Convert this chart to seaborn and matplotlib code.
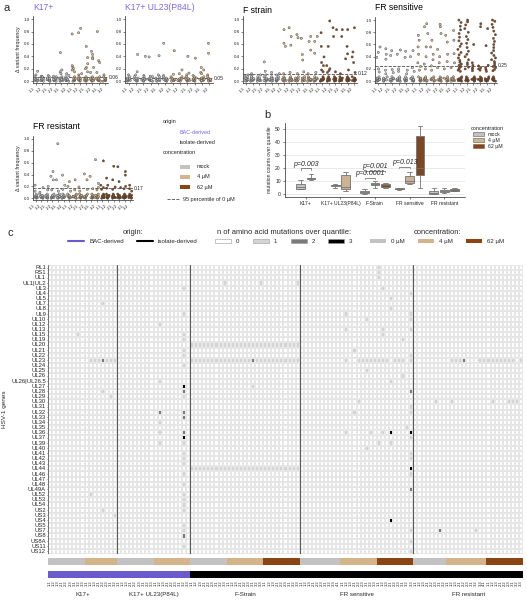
import numpy as np
import pandas as pd
import matplotlib
matplotlib.use('Agg')
import matplotlib.pyplot as plt
import seaborn as sns
from matplotlib.colors import ListedColormap
from matplotlib.patches import Patch, Rectangle
from matplotlib.lines import Line2D

sns.set_theme(style='ticks')
plt.rcParams['font.family'] = ['Liberation Sans', 'DejaVu Sans']

W, H = 527, 600

# ---------------- data ----------------
conc_names = ['mock', '4 µM', '62 µM']
conc_colors = {'mock': '#c2c2c2', '4 µM': '#d4b48a', '62 µM': '#8b4513'}
bac_color = '#6a5acd'
title_purple = '#7b68ee'

rep_labels = ['1.1', '1.2', '2.1', '2.2', '3.1', '3.2']
low_cluster = [0.0, 0.01, 0.01, 0.02, 0.03, 0.03, 0.04, 0.05, 0.07]

# panel a: upper points per sample (dense cluster near 0 added from low_cluster)
k17_points = [[0.16, 0.10], [0.08, 0.07], [0.09], [0.08], [0.46, 0.18, 0.15, 0.12], [0.12, 0.09],
              [0.76, 0.25, 0.22, 0.20, 0.18, 0.15], [0.85, 0.78, 0.12, 0.10],
              [0.56, 0.38, 0.28, 0.22, 0.20, 0.15], [0.48, 0.43, 0.38, 0.36, 0.22, 0.14],
              [0.80, 0.33, 0.30, 0.14], [0.10]]
ul23_points = [[0.10], [0.43, 0.15, 0.10], [0.40, 0.09], [0.39, 0.08], [0.41, 0.10], [0.61, 0.09],
               [0.49, 0.11], [0.18, 0.12], [0.40, 0.13, 0.10], [0.37, 0.09],
               [0.22, 0.18, 0.14, 0.12], [0.61, 0.45, 0.10]]
f_points = [[0.10, 0.08], [0.12, 0.09], [0.10], [0.31, 0.16, 0.10], [0.14], [0.12, 0.10],
            [0.83, 0.61, 0.56, 0.12], [0.86, 0.72, 0.58, 0.14], [0.75, 0.70, 0.12],
            [0.69, 0.43, 0.34, 0.15], [0.72, 0.64, 0.50, 0.12], [0.72, 0.64, 0.45, 0.14],
            [0.78, 0.56, 0.39, 0.30, 0.25, 0.18, 0.15], [0.97, 0.56, 0.25, 0.20, 0.17, 0.14],
            [0.86, 0.83, 0.72, 0.15], [0.83, 0.72, 0.12], [0.83, 0.56, 0.44, 0.36, 0.18],
            [0.86, 0.47, 0.39, 0.30, 0.14]]
frs_points = [[0.56, 0.47, 0.39, 0.20, 0.15], [0.53, 0.44, 0.36, 0.18, 0.12], [0.50, 0.42, 0.19, 0.14],
              [0.51, 0.44, 0.20, 0.16], [0.49, 0.39, 0.18, 0.12], [0.50, 0.40, 0.22, 0.16],
              [0.75, 0.67, 0.56, 0.44, 0.30, 0.24, 0.18], [0.94, 0.89, 0.78, 0.56, 0.40, 0.28, 0.20],
              [0.67, 0.56, 0.44, 0.35, 0.25, 0.18], [0.93, 0.89, 0.78, 0.52, 0.40, 0.30, 0.22],
              [0.75, 0.64, 0.44, 0.32, 0.20], [0.83, 0.67, 0.45, 0.30, 0.22],
              [1.00, 0.96, 0.90, 0.84, 0.78, 0.72, 0.66, 0.61, 0.57, 0.52, 0.47, 0.43, 0.38, 0.34,
               0.31, 0.28, 0.26, 0.24, 0.22, 0.20, 0.18, 0.16],
              [1.00, 0.97, 0.92, 0.86, 0.80, 0.73, 0.68, 0.62, 0.55, 0.49, 0.44, 0.40, 0.35, 0.30,
               0.27, 0.23, 0.20],
              [0.60, 0.30, 0.26, 0.22, 0.20, 0.17], [0.94, 0.89, 0.25, 0.22, 0.20, 0.18],
              [0.86, 0.58, 0.26, 0.22, 0.19, 0.16],
              [1.00, 0.98, 0.93, 0.88, 0.82, 0.76, 0.70, 0.65, 0.60, 0.55, 0.50, 0.46, 0.42, 0.38,
               0.35, 0.32, 0.29, 0.26, 0.24, 0.22, 0.19, 0.17]]
frr_points = [[0.22, 0.12], [0.18, 0.10], [0.20, 0.14], [0.45, 0.37, 0.31, 0.14], [0.92, 0.31, 0.12],
              [0.39, 0.22, 0.15], [0.28, 0.20, 0.12], [0.31, 0.14], [0.19, 0.12], [0.41, 0.31, 0.15],
              [0.37, 0.16], [0.65, 0.25, 0.18, 0.14], [0.63, 0.22, 0.18, 0.15], [0.34, 0.22, 0.17],
              [0.54, 0.31, 0.19, 0.15], [0.53, 0.28, 0.18], [0.45, 0.39, 0.20, 0.16], [0.22, 0.16, 0.12]]
thresholds = {'K17+': 0.06, 'K17+ UL23(P84L)': 0.05, 'F strain': 0.12,
              'FR sensitive': 0.25, 'FR resistant': 0.17}

# panel b: mutation counts over quantile (per strain / concentration)
strain_names = ['K17+', 'K17+ UL23(P84L)', 'F-Strain', 'FR sensitive', 'FR resistant']
box_counts = {
    'K17+': {'mock': [4, 4.5, 6, 8, 11], '4 µM': [11, 12, 12.5, 13, 16]},
    'K17+ UL23(P84L)': {'mock': [5, 6.5, 7, 7.5, 8], '4 µM': [3, 4, 6, 15, 17]},
    'F-Strain': {'mock': [0.5, 1, 2, 3, 4], '4 µM': [5, 7, 8, 9, 10], '62 µM': [5, 6, 7, 8, 9]},
    'FR sensitive': {'mock': [3.5, 4, 4.5, 5, 5], '4 µM': [8, 9, 10, 14, 17],
                     '62 µM': [5, 15, 20, 45, 53]},
    'FR resistant': {'mock': [0, 0.5, 1, 3, 5], '4 µM': [1, 2, 3, 3.5, 5], '62 µM': [2.5, 3, 3.5, 4, 5]},
}

# panel c
genes = ['RL1', 'RS1', 'UL1', 'UL1|UL2', 'UL3', 'UL4', 'UL5', 'UL7', 'UL8', 'UL9', 'UL10', 'UL12',
         'UL13', 'UL15', 'UL19', 'UL20', 'UL21', 'UL22', 'UL23', 'UL24', 'UL25', 'UL26',
         'UL26|UL26.5', 'UL27', 'UL28', 'UL29', 'UL30', 'UL31', 'UL32', 'UL33', 'UL34', 'UL35',
         'UL36', 'UL37', 'UL39', 'UL40', 'UL41', 'UL42', 'UL43', 'UL44', 'UL46', 'UL47', 'UL48',
         'UL49A', 'UL52', 'UL53', 'UL54', 'US2', 'US3', 'US4', 'US5', 'US7', 'US8', 'US8A',
         'US11', 'US12']
# columns per strain and concentration
strain_cols = [('K17+', {'mock': 9, '4 µM': 8}),
               ('K17+ UL23(P84L)', {'mock': 9, '4 µM': 9}),
               ('F-Strain', {'mock': 9, '4 µM': 9, '62 µM': 9}),
               ('FR sensitive', {'mock': 10, '4 µM': 9, '62 µM': 9}),
               ('FR resistant', {'mock': 8, '4 µM': 10, '62 µM': 9})]
strain_origin = {'K17+': 'BAC-derived', 'K17+ UL23(P84L)': 'BAC-derived', 'F-Strain': 'isolate-derived',
                 'FR sensitive': 'isolate-derived', 'FR resistant': 'isolate-derived'}
sample_labels = ['1.1', '1.2', '1.3', '2.1', '2.2', '2.3', '3.1', '3.2', '3.3', '4.1']
# (gene, first column, last column, n mutations)
mutation_cells = [
    ('UL7', 13, 13, 1), ('UL15', 7, 7, 1), ('UL23', 10, 16, 1), ('UL23', 13, 13, 2),
    ('UL28', 13, 13, 1), ('UL29', 15, 15, 1), ('UL52', 10, 10, 1), ('US2', 13, 13, 1), ('US3', 16, 16, 1),
    ('UL3', 33, 33, 1), ('UL9', 33, 33, 1), ('UL12', 27, 27, 1), ('UL15', 33, 33, 1), ('UL19', 33, 33, 1),
    ('UL21', 33, 33, 1), ('UL22', 33, 33, 1), ('UL24', 33, 33, 1), ('UL26|UL26.5', 27, 27, 1),
    ('UL27', 33, 33, 3), ('UL28', 33, 33, 2), ('UL29', 33, 33, 1), ('UL32', 27, 27, 2), ('UL32', 33, 33, 2),
    ('UL33', 33, 33, 2), ('UL34', 27, 27, 1), ('UL36', 27, 27, 1), ('UL36', 33, 33, 2), ('UL37', 33, 33, 3),
    ('UL39', 27, 27, 1), ('UL39', 33, 33, 1), ('UL41', 33, 33, 1), ('UL42', 33, 33, 1), ('UL43', 33, 33, 1),
    ('UL46', 33, 33, 1), ('UL48', 33, 33, 1), ('UL52', 33, 33, 1), ('UL53', 33, 33, 1), ('UL54', 33, 33, 1),
    ('US2', 33, 33, 1), ('US5', 33, 33, 1), ('US7', 33, 33, 1), ('US8', 33, 33, 2), ('US11', 33, 33, 1),
    ('UL1|UL2', 43, 43, 1), ('UL1|UL2', 52, 52, 1), ('UL1|UL2', 61, 61, 1), ('UL20', 35, 61, 1),
    ('UL23', 35, 61, 1), ('UL23', 50, 50, 2), ('UL27', 50, 50, 1), ('UL44', 35, 61, 1),
    ('RL1', 81, 81, 1), ('RS1', 81, 81, 1), ('UL1', 81, 81, 1), ('UL3', 82, 82, 1), ('UL4', 89, 89, 1),
    ('UL5', 84, 84, 1), ('UL8', 84, 84, 1), ('UL9', 89, 89, 1), ('UL10', 89, 89, 1), ('UL9', 73, 73, 1),
    ('UL10', 78, 78, 1), ('UL13', 73, 73, 1), ('UL13', 82, 82, 1), ('UL15', 82, 82, 1), ('UL13', 89, 89, 1),
    ('UL19', 87, 87, 1), ('UL21', 75, 75, 1), ('UL22', 89, 89, 1), ('UL23', 73, 73, 1), ('UL23', 76, 83, 1),
    ('UL23', 85, 87, 1), ('UL23', 89, 89, 1), ('UL25', 78, 78, 1), ('UL26', 87, 87, 1),
    ('UL26|UL26.5', 84, 84, 1), ('UL28', 89, 89, 2), ('UL30', 76, 76, 1), ('UL31', 89, 89, 1),
    ('UL32', 89, 89, 1), ('UL32', 75, 75, 1), ('UL35', 88, 88, 1), ('UL36', 73, 73, 1), ('UL36', 79, 79, 1),
    ('UL36', 82, 82, 1), ('UL36', 84, 84, 3), ('UL36', 89, 89, 3), ('UL37', 89, 89, 1), ('UL39', 81, 81, 1),
    ('UL39', 84, 84, 1), ('UL40', 78, 78, 1), ('UL41', 89, 89, 1), ('UL42', 89, 89, 1), ('UL44', 89, 89, 3),
    ('UL46', 89, 89, 1), ('UL49A', 89, 89, 2), ('US4', 84, 84, 3), ('US7', 89, 89, 1), ('US8A', 89, 89, 1),
    ('US12', 89, 89, 1),
    ('UL23', 99, 101, 1), ('UL23', 102, 102, 2), ('UL23', 106, 114, 1), ('UL23', 116, 116, 1),
    ('UL30', 95, 95, 1), ('UL30', 99, 99, 1), ('UL30', 109, 109, 1), ('UL30', 113, 115, 1),
    ('US7', 96, 96, 2), ('US7', 105, 105, 1),
]


def px_rect(x0, y0, x1, y1):
    return [x0 / W, 1 - y1 / H, (x1 - x0) / W, (y1 - y0) / H]


fig = plt.figure(figsize=(W / 100, H / 100), dpi=100)


# ---------------- panel a ----------------
def strip_panel(box, points, title, tcolor, ylabel=False, title_pad=4):
    ax = fig.add_axes(px_rect(*box))
    n = len(points)
    per = n // (2 if n == 12 else 3)
    concs = conc_names[:n // per]
    rows = []
    for i, vals in enumerate(points):
        for v in vals + low_cluster:
            rows.append({'sample': i, 'freq': v, 'conc': concs[i // per]})
    df = pd.DataFrame(rows)
    sns.stripplot(data=df, x='sample', y='freq', hue='conc', hue_order=conc_names,
                  palette=conc_colors, order=list(range(n)), jitter=0.3, size=1.6,
                  linewidth=0.3, edgecolor='0.25', legend=False, ax=ax)
    thr = thresholds[title]
    ax.axhline(thr, ls='--', lw=0.6, color='0.3')
    ax.text(1.01, thr, f'{thr}', transform=ax.get_yaxis_transform(), fontsize=3.6, va='center')
    ax.set_ylim(-0.03, 1.05)
    ax.set_yticks([0, 0.2, 0.4, 0.6, 0.8, 1.0])
    ax.set_xticks(range(n))
    ax.set_xticklabels(rep_labels * (n // 6), rotation=45, ha='right', fontsize=3.2)
    ax.tick_params(axis='y', labelsize=3.2)
    ax.tick_params(length=1.5, width=0.4, pad=1)
    ax.set_xlabel('')
    ax.set_ylabel('Δ variant frequency' if ylabel else '', fontsize=3.8, labelpad=2)
    ax.set_title(title, loc='left', fontsize=6.2, color=tcolor, pad=title_pad)
    for s in ax.spines.values():
        s.set_linewidth(0.5)
    sns.despine(ax=ax)
    return ax


strip_panel((33, 16, 108, 83), k17_points, 'K17+', title_purple, ylabel=True)
strip_panel((125, 16, 213, 83), ul23_points, 'K17+ UL23(P84L)', title_purple)
strip_panel((243, 16, 357, 83), f_points, 'F strain', 'black', title_pad=2)
strip_panel((375, 17, 497, 83), frs_points, 'FR sensitive', 'black', title_pad=5)
strip_panel((33, 136, 133, 200), frr_points, 'FR resistant', 'black', ylabel=True, title_pad=5)
fig.text(4 / W, 1 - 8 / H, 'a', fontsize=8, va='center')

# legend of panel a
def ftext(x, y, s, **kw):
    fig.text(x / W, 1 - y / H, s, va='center', **kw)


ftext(163, 122, 'origin', fontsize=4)
ftext(180, 132, 'BAC-derived', fontsize=4, color=title_purple)
ftext(180, 142, 'isolate-derived', fontsize=4)
ftext(163, 153, 'concentration', fontsize=4)
for name, y in zip(conc_names, [167, 177, 187]):
    fig.add_artist(Rectangle((180 / W, 1 - (y + 2) / H), 10 / W, 4 / H, transform=fig.transFigure,
                             facecolor=conc_colors[name], edgecolor='none'))
    ftext(197, y, name, fontsize=4)
fig.add_artist(Line2D([167 / W, 180 / W], [1 - 199 / H, 1 - 199 / H], transform=fig.transFigure,
                      ls='--', lw=0.6, color='0.3'))
ftext(183, 199, '95 percentile of 0 µM', fontsize=4)

# ---------------- panel b ----------------
axb = fig.add_axes(px_rect(285, 123, 465, 197))
offsets = {2: [-0.15, 0.15], 3: [-0.3, 0.0, 0.3]}
rows = []
for i, strain in enumerate(strain_names):
    groups = box_counts[strain]
    for j, (conc, vals) in enumerate(groups.items()):
        for v in vals:
            rows.append({'pos': i + offsets[len(groups)][j], 'count': v, 'conc': conc})
bdf = pd.DataFrame(rows)
axb.yaxis.grid(True, color='#e6e6e6', lw=0.6)
axb.set_axisbelow(True)
sns.boxplot(data=bdf, x='pos', y='count', hue='conc', hue_order=conc_names, palette=conc_colors,
            native_scale=True, dodge=False, width=0.85, whis=(0, 100), linewidth=0.6,
            linecolor='0.45', legend=False, ax=axb)
axb.set_xlim(-0.6, 4.6)
axb.set_ylim(-2, 55)
axb.set_yticks([0, 10, 20, 30, 40, 50])
axb.set_xticks(range(5))
axb.set_xticklabels(strain_names, fontsize=3.6)
axb.tick_params(axis='y', labelsize=3.6)
axb.tick_params(length=1.5, width=0.4, pad=1.5)
axb.set_xlabel('')
axb.set_ylabel('mutation counts over quantile', fontsize=3.6, labelpad=2)
for s in axb.spines.values():
    s.set_linewidth(0.5)
sns.despine(ax=axb)


def bracket(x1, x2, y, label):
    axb.plot([x1, x1, x2, x2], [y - 1, y, y, y - 1], color='0.35', lw=0.5)
    axb.text((x1 + x2) / 2, y + 0.6, label, ha='center', va='bottom', fontsize=5, style='italic')


bracket(-0.15, 0.15, 20, 'p=0.003')
bracket(1.7, 2.0, 13, 'p=0.0001')
bracket(1.7, 2.3, 18, 'p=0.001')
bracket(2.7, 3.0, 21, 'p=0.013')
axb.legend(handles=[Patch(facecolor=conc_colors[c], edgecolor='0.45', lw=0.5) for c in conc_names],
           labels=conc_names, title='concentration', loc='upper left', bbox_to_anchor=(1.02, 1.0),
           fontsize=3.8, title_fontsize=4, frameon=False, handlelength=2, handleheight=0.8,
           labelspacing=0.2, borderpad=0)
fig.text(264 / W, 1 - 115 / H, 'b', fontsize=8, va='center')

# ---------------- panel c ----------------
col_labels, col_conc, col_origin, bounds, centers = [], [], [], [], []
start = 0
for strain, conc_n in strain_cols:
    for conc, n in conc_n.items():
        col_labels += sample_labels[:n]
        col_conc += [conc_names.index(conc)] * n
        col_origin += [0 if strain_origin[strain] == 'BAC-derived' else 1] * n
    total = sum(conc_n.values())
    centers.append(start + total / 2)
    start += total
    bounds.append(start)
n_cols = start

mat = np.zeros((len(genes), n_cols))
for gene, c0, c1, val in mutation_cells:
    mat[genes.index(gene), c0:c1 + 1] = val
hm_df = pd.DataFrame(mat, index=genes, columns=range(n_cols))

mut_colors = ['#ffffff', '#d4d4d4', '#7a7a7a', '#000000']
ax_hm = fig.add_axes(px_rect(48, 265, 523, 554))
sns.heatmap(hm_df, cmap=ListedColormap(mut_colors), vmin=-0.5, vmax=3.5, cbar=False,
            linewidths=0.35, linecolor='#e6e6e6', xticklabels=False, yticklabels=genes, ax=ax_hm)
ax_hm.tick_params(axis='y', labelsize=4.2, length=1, width=0.4, pad=0.5)
ax_hm.set_ylabel('HSV-1 genes', fontsize=4.6, labelpad=3)
ax_hm.set_xlabel('')
for b in bounds[:-1]:
    ax_hm.axvline(b, color='0.35', lw=0.8)
ax_hm.axvline(0, color='0.35', lw=0.6)

ax_conc = fig.add_axes(px_rect(48, 558, 523, 565))
sns.heatmap([col_conc], cmap=ListedColormap([conc_colors[c] for c in conc_names]), vmin=-0.5,
            vmax=2.5, cbar=False, xticklabels=False, yticklabels=False, ax=ax_conc)

ax_or = fig.add_axes(px_rect(48, 571, 523, 578))
sns.heatmap([col_origin], cmap=ListedColormap([bac_color, '#000000']), vmin=-0.5, vmax=1.5,
            cbar=False, xticklabels=col_labels, yticklabels=False, ax=ax_or)
ax_or.tick_params(axis='x', labelsize=3.0, rotation=90, length=0, pad=1.5)
for name, cx in zip(strain_names, centers):
    ax_or.text(cx, -2.35, name, transform=ax_or.get_xaxis_transform(), ha='center', va='center',
               fontsize=4.4)

fig.text(7 / W, 1 - 233 / H, 'c', fontsize=8, va='center')

leg_kw = dict(loc='upper center', frameon=False, fontsize=4.4, title_fontsize=5.4, handlelength=2.6,
              handleheight=0.7, columnspacing=2.2, handletextpad=0.8, borderpad=0)
l1 = fig.legend(handles=[Line2D([0], [0], color=bac_color, lw=1.5), Line2D([0], [0], color='black', lw=1.5)],
                labels=['BAC-derived', 'isolate-derived'], title='origin:', ncol=2,
                bbox_to_anchor=(133 / W, 1 - 226 / H), **leg_kw)
l2 = fig.legend(handles=[Patch(facecolor=c, edgecolor='0.6', lw=0.4) for c in mut_colors],
                labels=['0', '1', '2', '3'], title='n of amino acid mutations over quantile:', ncol=4,
                bbox_to_anchor=(284 / W, 1 - 226 / H), **leg_kw)
l3 = fig.legend(handles=[Patch(facecolor=conc_colors[c], edgecolor='none') for c in conc_names],
                labels=['0 µM', '4 µM', '62 µM'], title='concentration:', ncol=3,
                bbox_to_anchor=(437 / W, 1 - 226 / H), **leg_kw)

fig.savefig('out.png', dpi=100)
